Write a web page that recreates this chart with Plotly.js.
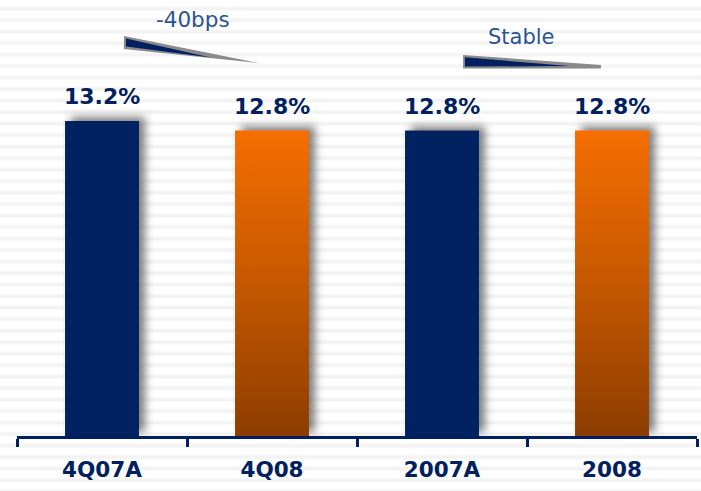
<!DOCTYPE html>
<html>
<head>
<meta charset="utf-8">
<script src="https://cdn.plot.ly/plotly-3.0.1.min.js"></script>
<style>
  html, body { margin:0; padding:0; }
  body {
    width:701px; height:491px; overflow:hidden;
    background: repeating-linear-gradient(to bottom, #ffffff 0px, #ffffff 5.5px, #f3f3f3 8px, #f3f3f3 9.5px, #ffffff 11.5px);
  }
  #chart { width:701px; height:491px; }
</style>
</head>
<body>
<div id="chart"></div>
<script>
// ---- data ----
var categories = ['4Q07A', '4Q08', '2007A', '2008'];
var values = [13.2, 12.8, 12.8, 12.8];
var labels = ['13.2%', '12.8%', '12.8%', '12.8%'];
var changeLabels = ['-40bps', 'Stable'];

var NAVY = '#002060';
var ORANGE = '#F26B00';
var barColors = [NAVY, ORANGE, NAVY, ORANGE];

var yTop = 18.27;

var trace = {
  type: 'bar',
  x: categories,
  y: values,
  width: 0.435,
  marker: { color: barColors, line: { width: 0 } },
  hoverinfo: 'skip'
};

var annotations = [];
for (var i = 0; i < categories.length; i++) {
  annotations.push({
    x: i, y: values[i], xref: 'x', yref: 'y',
    text: '<b>' + labels[i] + '</b>', showarrow: false,
    yanchor: 'middle', yshift: 24,
    font: { family: 'DejaVu Sans', size: 22, color: NAVY }
  });
}
annotations.push({
  x: 0.535, y: 17.45, xref: 'x', yref: 'y', text: changeLabels[0], showarrow: false,
  font: { family: 'DejaVu Sans', size: 21.5, color: '#2B5394' }
});
annotations.push({
  x: 2.47, y: 16.72, xref: 'x', yref: 'y', text: changeLabels[1], showarrow: false,
  font: { family: 'DejaVu Sans', size: 21, color: '#2B5394' }
});

function poly(pts) {
  return 'M' + pts.map(function (p) { return p[0] + ',' + p[1]; }).join(' L') + ' Z';
}

var shapes = [
  { type: 'path', xref: 'x', yref: 'y', path: poly([[0.129, 16.76], [0.129, 16.22], [0.924, 15.63]]),
    fillcolor: '#8a8a8a', line: { width: 0 } },
  { type: 'path', xref: 'x', yref: 'y', path: poly([[0.141, 16.66], [0.141, 16.32], [0.64, 15.86]]),
    fillcolor: NAVY, line: { width: 0 } },
  { type: 'path', xref: 'x', yref: 'y', path: poly([[2.124, 15.97], [2.124, 15.40], [2.935, 15.40], [2.935, 15.55]]),
    fillcolor: '#8a8a8a', line: { width: 0 } },
  { type: 'path', xref: 'x', yref: 'y', path: poly([[2.135, 15.87], [2.135, 15.48], [2.75, 15.50]]),
    fillcolor: NAVY, line: { width: 0 } }
];

var layout = {
  width: 701, height: 491,
  margin: { l: 17, r: 4, t: 0, b: 55 },
  paper_bgcolor: 'rgba(0,0,0,0)',
  plot_bgcolor: 'rgba(0,0,0,0)',
  showlegend: false,
  xaxis: {
    type: 'category', range: [-0.5, 3.5], fixedrange: true,
    showline: true, linecolor: NAVY, linewidth: 3,
    ticks: 'outside', tickson: 'boundaries', ticklen: 8, tickwidth: 3, tickcolor: NAVY,
    showgrid: false, zeroline: false,
    tickfont: { family: 'DejaVu Sans', size: 21.5, color: NAVY, weight: 'bold' },
    ticklabelstandoff: 12
  },
  yaxis: { range: [0, yTop], visible: false, showgrid: false, zeroline: false, fixedrange: true },
  annotations: annotations,
  shapes: shapes
};

Plotly.newPlot('chart', [trace], layout, { staticPlot: true, displayModeBar: false }).then(function (gd) {
  var svg = gd.querySelector('svg.main-svg');
  var ns = 'http://www.w3.org/2000/svg';
  var defs = svg.querySelector('defs') || svg.insertBefore(document.createElementNS(ns, 'defs'), svg.firstChild);
  var grad = document.createElementNS(ns, 'linearGradient');
  grad.setAttribute('id', 'orgGrad');
  grad.setAttribute('x1', '0'); grad.setAttribute('y1', '0');
  grad.setAttribute('x2', '0'); grad.setAttribute('y2', '1');
  [['0', '#F56E00'], ['0.5', '#C55800'], ['1', '#8C3D00']].forEach(function (s) {
    var st = document.createElementNS(ns, 'stop');
    st.setAttribute('offset', s[0]); st.setAttribute('stop-color', s[1]);
    grad.appendChild(st);
  });
  defs.appendChild(grad);
  var filt = document.createElementNS(ns, 'filter');
  filt.setAttribute('id', 'barShadow');
  filt.setAttribute('x', '-30%'); filt.setAttribute('y', '-10%');
  filt.setAttribute('width', '170%'); filt.setAttribute('height', '120%');
  var ds = document.createElementNS(ns, 'feDropShadow');
  ds.setAttribute('dx', '6'); ds.setAttribute('dy', '-4');
  ds.setAttribute('stdDeviation', '4.5');
  ds.setAttribute('flood-color', '#444');
  ds.setAttribute('flood-opacity', '0.7');
  filt.appendChild(ds);
  defs.appendChild(filt);
  var paths = gd.querySelectorAll('.barlayer .point path');
  paths.forEach(function (p, idx) {
    p.setAttribute('filter', 'url(#barShadow)');
    if (barColors[idx] === ORANGE) {
      p.style.fill = 'url(#orgGrad)';
    }
  });
});
</script>
</body>
</html>
